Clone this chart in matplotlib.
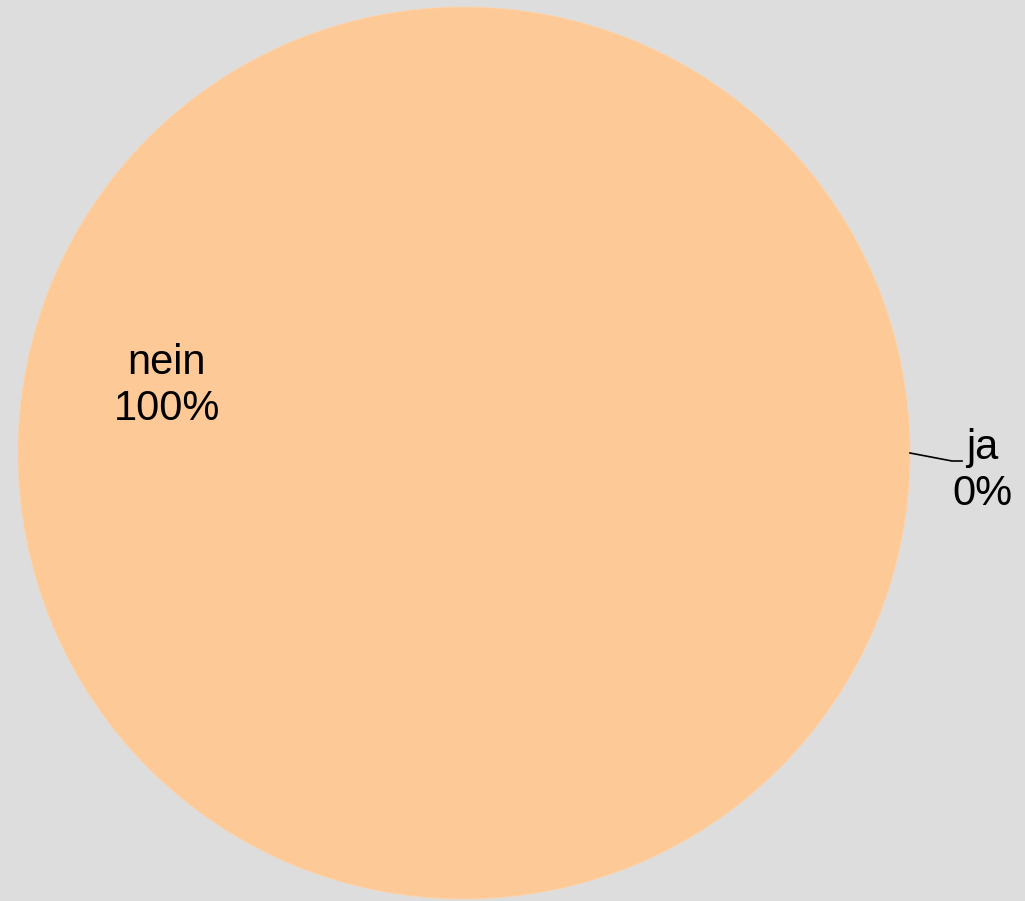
import numpy as np
import matplotlib.pyplot as plt

# data
labels = ['ja', 'nein']
values = [0, 100]
colors = ['#fdc997', '#fdc997']

plt.rcParams['font.family'] = ['Liberation Sans', 'DejaVu Sans']

fig = plt.figure(figsize=(10.25, 9.01), dpi=100)
fig.patch.set_facecolor('#dddddd')
ax = fig.add_axes([0, 0, 1, 1])
ax.set_facecolor('#dddddd')

cx, cy, r = 464, 453, 446
wedges, _ = ax.pie(values, colors=colors, center=(cx, cy), radius=r, startangle=0,
                   frame=True, wedgeprops=dict(edgecolor='#fdd3ab', linewidth=0.6))
ax.set_xlim(0, 1025)
ax.set_ylim(901, 0)
ax.set_aspect('auto')
ax.axis('off')

total = sum(values)
pct = [f'{v / total * 100:.0f}%' for v in values]

# nein label inside
ax.text(167, 386, f'{labels[1]}\n{pct[1]}', ha='center', va='center', fontsize=30,
        linespacing=1.22, color='black')

# ja label outside with leader line
ax.plot([cx + r, 952, 962], [cy, 461, 461], color='black', lw=1.2)
ax.text(982, 471, f'{labels[0]}\n{pct[0]}', ha='center', va='center', fontsize=30,
        linespacing=1.22, color='black')

fig.savefig('out.png', dpi=100, facecolor=fig.get_facecolor())
